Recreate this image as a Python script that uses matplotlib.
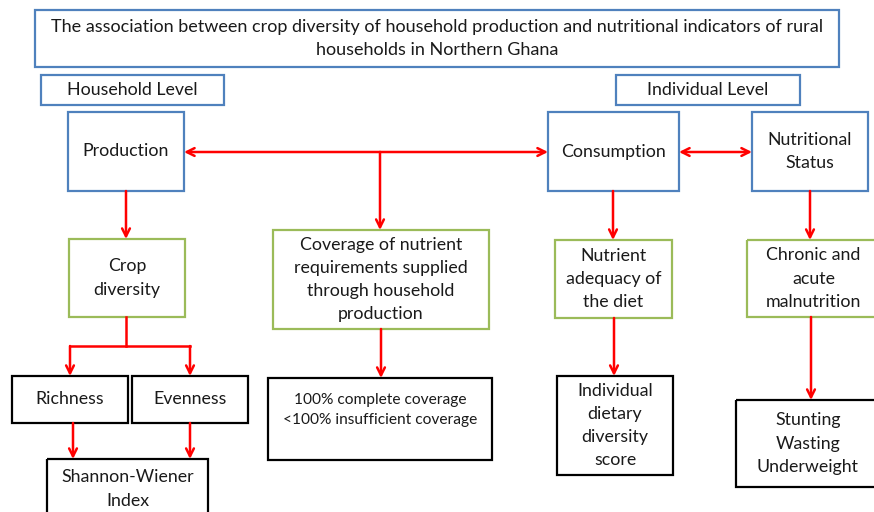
import matplotlib.pyplot as plt
from matplotlib.patches import Rectangle

plt.rcParams['font.family'] = ['Lato', 'DejaVu Sans']

# texts of the boxes
title_text = "The association between crop diversity of household production and nutritional indicators of rural\nhouseholds in Northern Ghana"
level_labels = ["Household Level", "Individual Level"]
top_labels = ["Production", "Consumption", "Nutritional\nStatus"]
mid_labels = ["Crop\ndiversity", "Coverage of nutrient\nrequirements supplied\nthrough household\nproduction",
              "Nutrient\nadequacy of\nthe diet", "Chronic and\nacute\nmalnutrition"]
low_labels = ["Richness", "Evenness", "100% complete coverage\n<100% insufficient coverage",
              "Individual\ndietary\ndiversity\nscore", "Stunting\nWasting\nUnderweight"]
bottom_labels = ["Shannon-Wiener\nIndex"]

BLUE = "#4f81bd"
GREEN = "#9bbb59"
RED = "#ff0000"
FS = 12.8

fig = plt.figure(figsize=(8.74, 5.12), dpi=100)
ax = fig.add_axes([0, 0, 1, 1])
ax.set_xlim(0, 874)
ax.set_ylim(512, 0)
ax.axis("off")


def box(x0, y0, x1, y1, text, color, fs=FS, lw=1.6, ty=None, ls=1.55):
    ax.add_patch(Rectangle((x0, y0), x1 - x0, y1 - y0, fill=False, edgecolor=color, lw=lw, clip_on=False))
    if ty is None:
        ty = (y0 + y1) / 2
    ax.text((x0 + x1) / 2, ty, text, ha="center", va="center", fontsize=fs,
            color="#1a1a1a", linespacing=ls)


def arrow(x0, y0, x1, y1, style="->"):
    ax.annotate("", xy=(x1, y1), xytext=(x0, y0),
                arrowprops=dict(arrowstyle=style, color=RED, lw=1.8, shrinkA=0, shrinkB=0,
                                mutation_scale=14))


def line(xs, ys):
    ax.plot(xs, ys, color=RED, lw=1.8, solid_capstyle="projecting")


# header boxes
box(35, 10, 839, 67, title_text, BLUE, fs=13, ls=1.5)
box(41, 75, 224, 105, level_labels[0], BLUE)
box(616, 75, 800, 105, level_labels[1], BLUE)

# top row
box(68, 112, 184, 191, top_labels[0], BLUE)
box(548, 112, 679, 191, top_labels[1], BLUE)
box(752, 112, 868, 191, top_labels[2], BLUE)

# middle row
box(69, 239, 185, 317, mid_labels[0], GREEN)
box(273, 230, 489, 329, mid_labels[1], GREEN)
box(555, 240, 672, 318, mid_labels[2], GREEN)
box(747, 240, 880, 317, mid_labels[3], GREEN)

# lower row
box(12, 376, 128, 423, low_labels[0], "black")
box(132, 376, 248, 423, low_labels[1], "black")
box(268, 378, 492, 460, low_labels[2], "black", fs=11.2, ty=410)
box(557, 376, 673, 475, low_labels[3], "black")
box(736, 400, 880, 487, low_labels[4], "black")
box(47, 459, 208, 530, bottom_labels[0], "black", ty=489)

# arrows
arrow(380, 152, 184, 152)
arrow(380, 152, 548, 152)
arrow(380, 152, 380, 230)
arrow(679, 152, 752, 152, style="<->")

arrow(126, 191, 126, 239)
line([126, 126], [317, 346])
line([70, 190], [346, 346])
arrow(70, 346, 70, 376)
arrow(190, 346, 190, 376)
arrow(73, 423, 73, 459)
arrow(190, 423, 190, 459)

arrow(381, 329, 381, 378)
arrow(613, 191, 613, 240)
arrow(614, 318, 614, 376)
arrow(810, 191, 810, 240)
arrow(811, 317, 811, 400)

fig.savefig("out.png", dpi=100)
